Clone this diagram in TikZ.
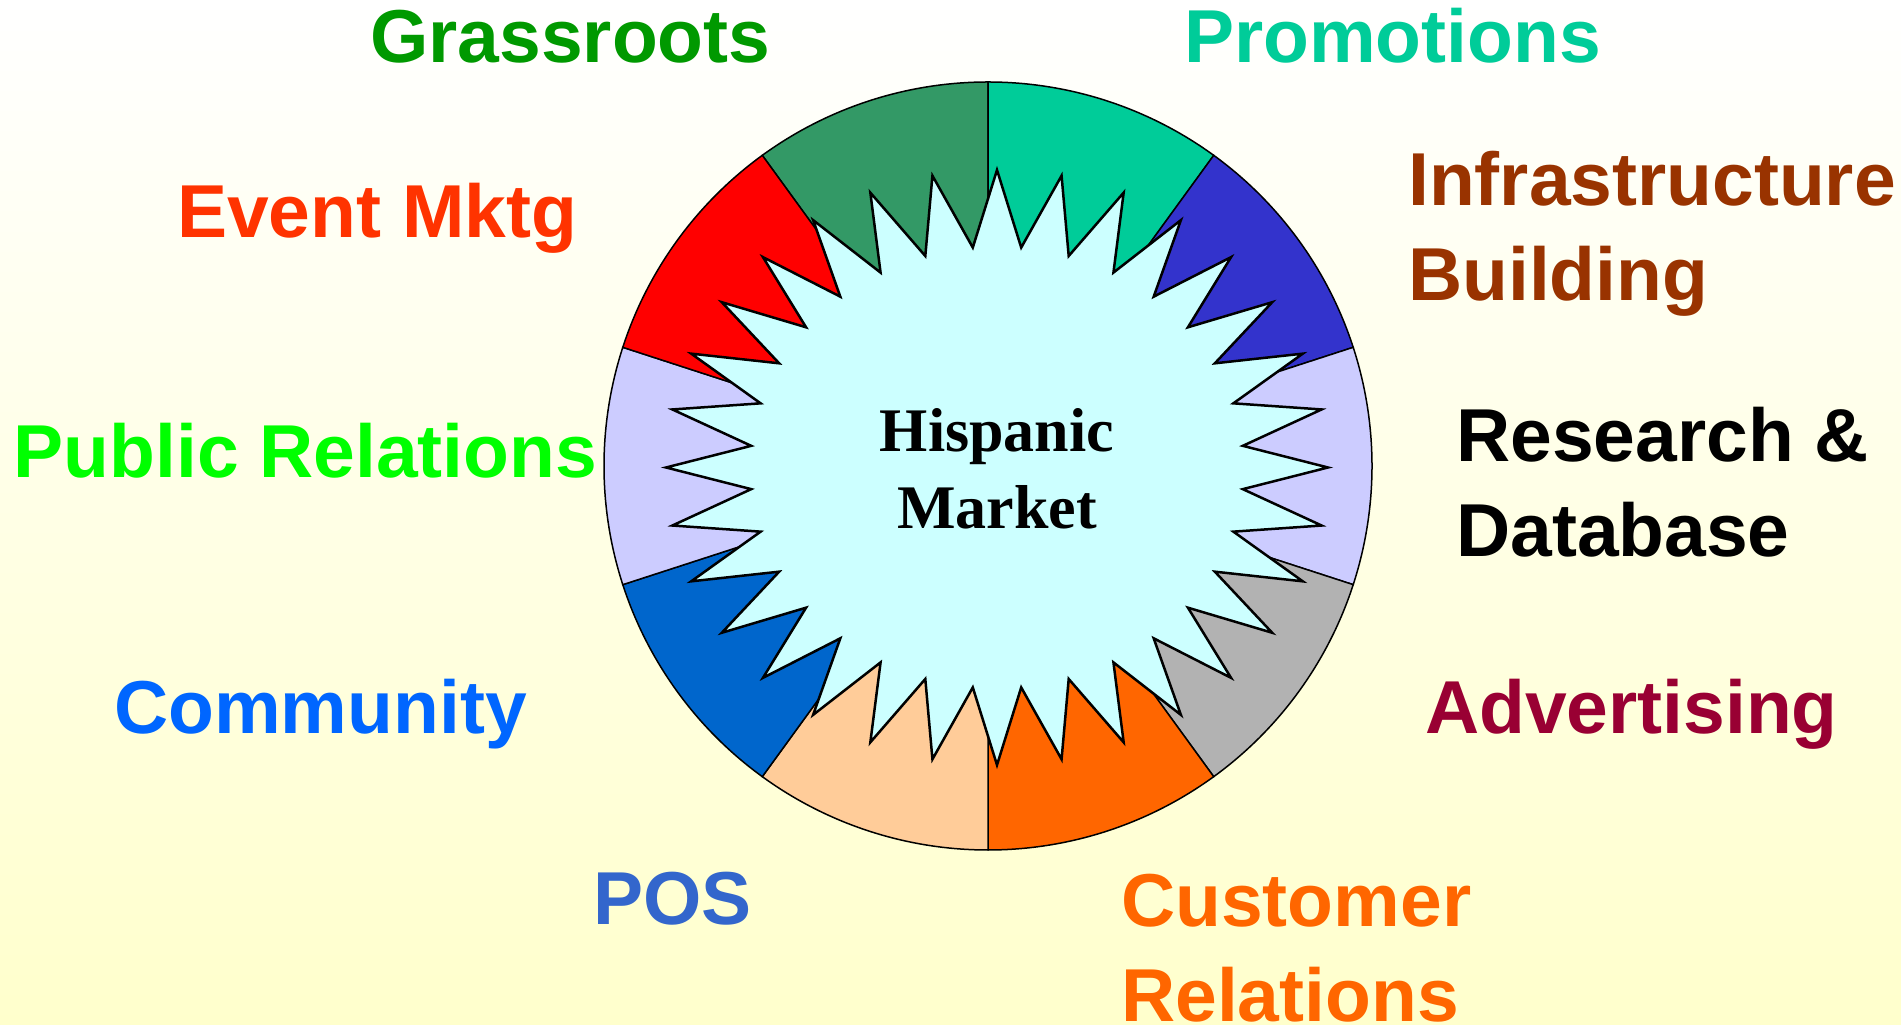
\documentclass[tikz,border=0pt]{standalone}
\usepackage{fontspec}
\setmainfont{Liberation Serif}
\newfontfamily\labelfont{Liberation Sans}
\definecolor{bgyellow}{HTML}{FFFFCC}
\definecolor{grassfill}{HTML}{339966}
\definecolor{promofill}{HTML}{00CC99}
\definecolor{infrafill}{HTML}{3333CC}
\definecolor{lavfill}{HTML}{CCCCFF}
\definecolor{greyfill}{HTML}{B2B2B2}
\definecolor{custfill}{HTML}{FF6600}
\definecolor{posfill}{HTML}{FFCC99}
\definecolor{commfill}{HTML}{0066CC}
\definecolor{eventfill}{HTML}{FF0000}
\definecolor{starfill}{HTML}{CCFFFF}
\definecolor{grasstext}{HTML}{009900}
\definecolor{promotext}{HTML}{00CC99}
\definecolor{eventtext}{HTML}{FF3300}
\definecolor{infratext}{HTML}{993300}
\definecolor{prtext}{HTML}{00FF00}
\definecolor{commtext}{HTML}{0066FF}
\definecolor{advtext}{HTML}{990033}
\definecolor{postext}{HTML}{3366CC}
\definecolor{custtext}{HTML}{FF6600}
\begin{document}
\begin{tikzpicture}[x=1pt,y=1pt,
	lbl/.style={anchor=base west,inner sep=0pt,align=left,font=\labelfont\bfseries\fontsize{75}{94.7}\selectfont}]
		\shade[top color=white,bottom color=bgyellow] (0,0) rectangle (1901,1025);
		\useasboundingbox (0,0) rectangle (1901,1025);
		\coordinate (c) at (988,559);
		\foreach \a/\col in {90/grassfill,54/promofill,18/infrafill,-18/lavfill,-54/greyfill,-90/custfill,-126/posfill,-162/commfill,162/lavfill,126/eventfill}
			\draw[fill=\col,line width=1.5pt] (c) -- ++(\a:384) arc[start angle=\a,delta angle=36,radius=384] -- cycle;
		\draw[fill=starfill,line width=2.5pt,line join=miter,shift={(997,557.5)}] (0:331 and 297.5)
			\foreach \i in {1,...,32} { -- ({\i*11.25-5.625}:247 and 221) -- ({\i*11.25}:331 and 297.5) } -- cycle;
		\node[anchor=base,inner sep=0pt,align=center,font=\bfseries\fontsize{62}{76.6}\selectfont] (market) at (997,496.7) {Hispanic\\Market};
		\node[lbl,text=grasstext] (grassroots) at (370,962.3) {Grassroots};
		\node[lbl,text=promotext] (promotions) at (1184,962.3) {Promotions};
		\node[lbl,text=eventtext] (event) at (177,787.3) {Event Mktg};
		\node[lbl,text=infratext] (infra) at (1408,724.3) {Infrastructure\\Building};
		\node[lbl,text=prtext] (pr) at (13.5,547.3) {Public Relations};
		\node[lbl] (research) at (1456,468.6) {Research \&\\Database};
		\node[lbl,text=commtext] (community) at (114,291) {Community};
		\node[lbl,text=advtext] (advertising) at (1425,291) {Advertising};
		\node[lbl,text=postext] (pos) at (593,100) {POS};
		\node[lbl,text=custtext] (customer) at (1121,3.3) {Customer\\Relations};
	\end{tikzpicture}
\end{document}
